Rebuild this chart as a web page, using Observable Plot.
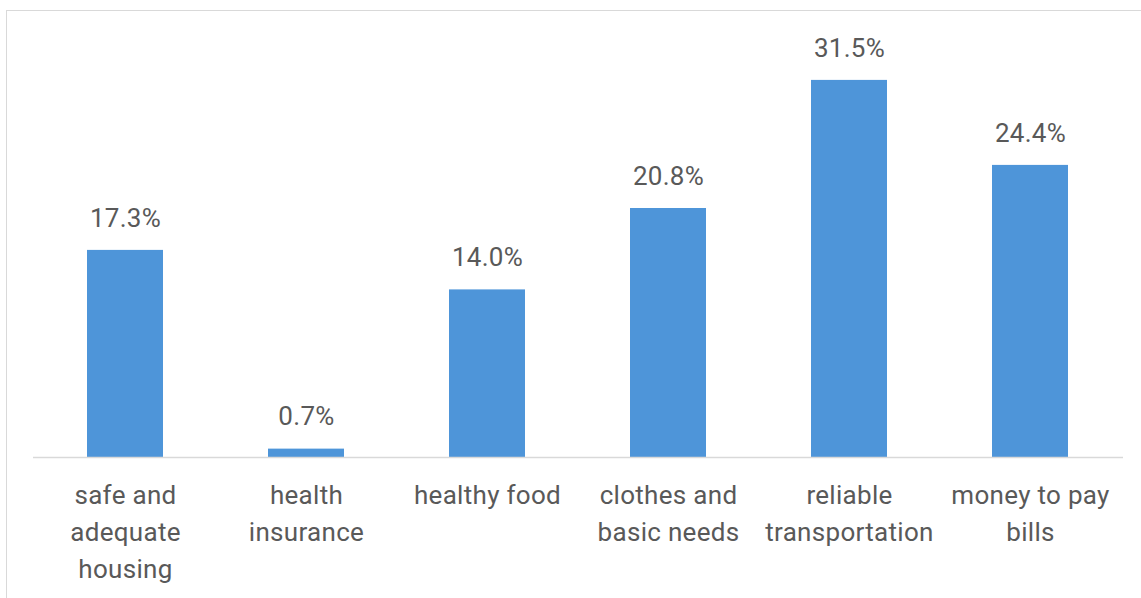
<!DOCTYPE html>
<html><head><meta charset="utf-8">
<script src="https://cdn.jsdelivr.net/npm/d3@7"></script>
<script src="https://cdn.jsdelivr.net/npm/@observablehq/plot@0.6"></script>
<style>
html,body{margin:0;padding:0;background:#fff;overflow:hidden;}
#wrap{position:relative;width:1141px;height:598px;}
#frame{position:absolute;left:6px;top:10px;width:1200px;height:700px;border-left:1.5px solid #d9d9d9;border-top:1.5px solid #d9d9d9;pointer-events:none;}
</style></head>
<body><div id="wrap"><div id="frame"></div></div>
<script>
const categories = ["safe and\nadequate\nhousing","health\ninsurance","healthy food","clothes and\nbasic needs","reliable\ntransportation","money to pay\nbills"];
const values = [17.3, 0.7, 14.0, 20.8, 31.5, 24.4];
const data = categories.map((c,i)=>({cat:c, v:values[i]}));
const font = "Roboto, 'Noto Sans', sans-serif";
const chart = Plot.plot({
  width:1141, height:598,
  marginLeft:33, marginRight:18, marginTop:38, marginBottom:141,
  style:{fontFamily:font, background:"transparent", overflow:"visible"},
  x:{domain:categories, paddingInner:0.58, paddingOuter:0.29, axis:null},
  y:{domain:[0,35], axis:null},
  marks:[
    Plot.barY(data,{x:"cat", y:"v", fill:"#4e95d9"}),
    Plot.ruleY([0],{stroke:"#d9d9d9", strokeWidth:1.5}),
    Plot.text(data,{x:"cat", y:"v", text:d=>d.v.toFixed(1)+"%", dy:-32, fontSize:26, fill:"#595959"}),
    Plot.text(data,{x:"cat", text:"cat", frameAnchor:"bottom", lineAnchor:"top", dy:20, lineHeight:1.42, fontSize:26, fill:"#595959"})
  ]
});
chart.style.position="absolute"; chart.style.left="0"; chart.style.top="0";
chart.querySelectorAll("text").forEach(t=>t.style.letterSpacing="0.3px");
document.getElementById("wrap").appendChild(chart);
</script></body></html>
